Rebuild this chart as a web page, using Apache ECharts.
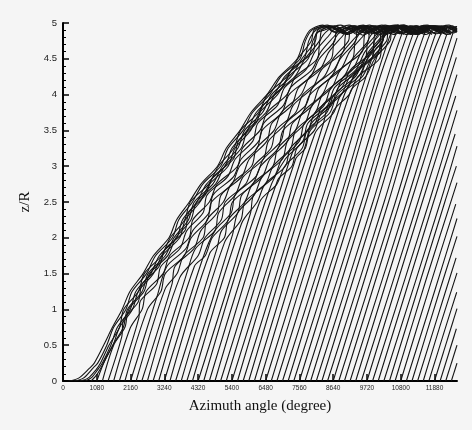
<!DOCTYPE html>
<html>
<head>
<meta charset="utf-8">
<script src="https://cdn.jsdelivr.net/npm/echarts@6/dist/echarts.min.js"></script>
<style>html,body{margin:0;padding:0;background:#f5f5f5;}#c{width:472px;height:430px;}</style>
</head>
<body>
<div id="c"></div>
<script>
// Axis values
const xTickValues = [0,1080,2160,3240,4320,5400,6480,7560,8640,9720,10800,11880];
const xRange = [0, 12600];
const yRange = [0, 5];
const yStep = 0.5;

// Vortex trajectories [azimuth (deg), z/R], named by release azimuth
const v0180 = [[180,0],[500,0.04],[850,0.18],[1000,0.25],[1300,0.5],[1580,0.75],[1890,1],[2140,1.25],[2560,1.5],[2890,1.75],[3390,2],[3630,2.25],[4040,2.5],[4410,2.75],[4940,3],[5220,3.25],[5660,3.5],[6010,3.75],[6520,4],[6920,4.25],[7490,4.5],[7700,4.75],[7900,4.9],[8300,4.97],[8700,4.87],[9200,4.95],[9700,4.85]];
const v0360 = [[360,0],[650,0.04],[960,0.18],[1110,0.25],[1400,0.5],[1620,0.75],[2010,1],[2210,1.25],[2670,1.5],[2960,1.75],[3500,2],[3700,2.25],[4140,2.5],[4470,2.75],[5040,3],[5280,3.25],[5760,3.5],[6060,3.75],[6610,4],[6970,4.25],[7580,4.5],[7750,4.75],[7960,4.9],[8350,4.95],[8800,4.86],[9300,4.96],[9800,4.84]];
const v0540 = [[540,0],[800,0.04],[1060,0.16],[1200,0.25],[1470,0.5],[1810,0.75],[1940,1],[2410,1.25],[2600,1.5],[3150,1.75],[3430,2],[3890,2.25],[4070,2.5],[4660,2.75],[4970,3],[5460,3.25],[5680,3.5],[6250,3.75],[6540,4],[7160,4.25],[7510,4.5],[7940,4.75],[8030,4.9],[8450,4.97],[8900,4.87],[9400,4.95],[9900,4.86]];
const v0720 = [[720,0],[920,0.05],[1130,0.17],[1260,0.25],[1530,0.5],[1740,0.75],[2150,1],[2330,1.25],[2810,1.5],[3080,1.75],[3640,2],[3820,2.25],[4280,2.5],[4590,2.75],[5180,3],[5400,3.25],[5890,3.5],[6180,3.75],[6750,4],[7090,4.25],[7710,4.5],[7860,4.75],[8090,4.9],[8500,4.95],[9000,4.85],[9500,4.96],[10000,4.85]];
const v0900 = [[900,0],[1100,0.1],[1300,0.25],[1590,0.5],[1930,0.75],[2060,1],[2530,1.25],[2720,1.5],[3270,1.75],[3550,2],[4010,2.25],[4200,2.5],[4790,2.75],[5100,3],[5590,3.25],[5810,3.5],[6380,3.75],[6670,4],[7290,4.25],[7640,4.5],[8070,4.75],[8150,4.9],[8550,4.96],[9050,4.86],[9550,4.95],[10050,4.84]];
const v1080 = [[1080,0],[1350,0.3],[1600,0.5],[1810,0.75],[2220,1],[2410,1.25],[2890,1.5],[3170,1.75],[3730,2],[3910,2.25],[4380,2.5],[4690,2.75],[5280,3],[5500,3.25],[6000,3.5],[6290,3.75],[6860,4],[7210,4.25],[7840,4.5],[7990,4.75],[8220,4.9],[8600,4.94],[9100,4.84],[9600,4.96],[10100,4.87]];
const v1260 = [[1260,0],[1620,0.5],[1980,0.75],[2100,1],[2590,1.25],[2770,1.5],[3350,1.75],[3610,2],[4090,2.25],[4270,2.5],[4880,2.75],[5170,3],[5700,3.25],[5900,3.5],[6490,3.75],[6770,4],[7410,4.25],[7740,4.5],[8200,4.75],[8280,4.9],[8680,4.96],[9080,4.86],[9580,4.95],[10080,4.84]];
const v1440 = [[1440,0],[1880,0.62],[1930,0.85],[2400,1.1],[2530,1.35],[3070,1.6],[3280,1.85],[3900,2.1],[4020,2.35],[4550,2.6],[4800,2.85],[5450,3.1],[5610,3.35],[6170,3.6],[6400,3.85],[7030,4.1],[7310,4.35],[8000,4.6],[8090,4.85],[8350,4.9],[8750,4.95],[9150,4.85],[9650,4.96],[10150,4.86]];
const v1620 = [[1620,0],[2150,0.74],[2530,1],[2660,1.25],[3200,1.5],[3410,1.75],[4030,2],[4150,2.25],[4680,2.5],[4930,2.75],[5580,3],[5740,3.25],[6300,3.5],[6530,3.75],[7160,4],[7440,4.25],[8130,4.5],[8220,4.75],[8480,4.9],[8880,4.97],[9380,4.87],[9880,4.95],[10380,4.83]];
const v1800 = [[1800,0],[2420,0.87],[2460,1.1],[2990,1.35],[3130,1.6],[3740,1.85],[3960,2.1],[4480,2.35],[4610,2.6],[5260,2.85],[5510,3.1],[6070,3.35],[6230,3.6],[6860,3.85],[7090,4.1],[7770,4.35],[8060,4.6],[8550,4.85],[8610,4.9],[9010,4.94],[9410,4.84],[9910,4.96],[10410,4.87]];
const v1980 = [[1980,0],[2700,1],[3130,1.25],[3270,1.5],[3880,1.75],[4100,2],[4620,2.25],[4750,2.5],[5400,2.75],[5650,3],[6210,3.25],[6370,3.5],[7000,3.75],[7230,4],[7910,4.25],[8200,4.5],[8690,4.75],[8750,4.9],[9150,4.97],[9650,4.86],[10150,4.95],[10650,4.85]];
const v2160 = [[2160,0],[3020,1.2],[3320,1.6],[3930,1.85],[4150,2.1],[4670,2.35],[4800,2.6],[5450,2.85],[5700,3.1],[6260,3.35],[6420,3.6],[7050,3.85],[7280,4.1],[7960,4.35],[8250,4.6],[8740,4.85],[8800,4.9],[9200,4.93],[9600,4.83],[10100,4.95],[10600,4.86]];
const v2340 = [[2340,0],[3260,1.28],[3650,1.5],[3860,1.75],[4480,2],[4600,2.25],[5130,2.5],[5380,2.75],[6030,3],[6190,3.25],[6750,3.5],[6980,3.75],[7610,4],[7890,4.25],[8580,4.5],[8670,4.75],[8930,4.9],[9330,4.96],[9800,4.87],[10300,4.97],[10800,4.85]];
const v2520 = [[2520,0],[3490,1.36],[3580,1.6],[4190,1.85],[4410,2.1],[4930,2.35],[5060,2.6],[5710,2.85],[5960,3.1],[6520,3.35],[6680,3.6],[7310,3.85],[7540,4.1],[8220,4.35],[8510,4.6],[9000,4.85],[9060,4.9],[9460,4.95],[9900,4.85],[10400,4.94],[10900,4.84]];
const v2700 = [[2700,0],[3730,1.44],[4320,1.75],[4540,2],[5060,2.25],[5190,2.5],[5840,2.75],[6090,3],[6650,3.25],[6810,3.5],[7440,3.75],[7670,4],[8350,4.25],[8640,4.5],[9130,4.75],[9190,4.9],[9600,4.97],[10000,4.86],[10500,4.96],[11000,4.87]];
const v2880 = [[2880,0],[3970,1.52],[4240,1.85],[4860,2.1],[4980,2.35],[5510,2.6],[5760,2.85],[6410,3.1],[6570,3.35],[7130,3.6],[7360,3.85],[7990,4.1],[8270,4.35],[8960,4.6],[9050,4.85],[9310,4.9],[9700,4.94],[10150,4.84],[10650,4.95],[11150,4.86]];
const v3060 = [[3060,0],[4200,1.6],[4550,1.75],[4770,2],[5290,2.25],[5420,2.5],[6070,2.75],[6320,3],[6880,3.25],[7040,3.5],[7670,3.75],[7900,4],[8580,4.25],[8870,4.5],[9360,4.75],[9420,4.9],[9800,4.97],[10300,4.87],[10800,4.95],[11300,4.85]];
const v3240 = [[3240,0],[4460,1.7],[4860,2.1],[5380,2.35],[5510,2.6],[6160,2.85],[6410,3.1],[6970,3.35],[7130,3.6],[7760,3.85],[7990,4.1],[8670,4.35],[8960,4.6],[9450,4.85],[9510,4.9],[9900,4.95],[10400,4.85],[10900,4.96],[11400,4.84]];
const v3420 = [[3420,0],[4690,1.78],[5160,2],[5280,2.25],[5810,2.5],[6060,2.75],[6710,3],[6870,3.25],[7430,3.5],[7660,3.75],[8290,4],[8570,4.25],[9260,4.5],[9350,4.75],[9610,4.9],[10000,4.96],[10450,4.87],[10950,4.95],[11450,4.86]];
const v3600 = [[3600,0],[4930,1.86],[5070,2.1],[5590,2.35],[5720,2.6],[6370,2.85],[6620,3.1],[7180,3.35],[7340,3.6],[7970,3.85],[8200,4.1],[8880,4.35],[9170,4.6],[9660,4.85],[9720,4.9],[10100,4.94],[10600,4.84],[11100,4.96],[11600,4.86]];
const v3780 = [[3780,0],[5170,1.94],[5690,2.25],[5820,2.5],[6470,2.75],[6720,3],[7280,3.25],[7440,3.5],[8070,3.75],[8300,4],[8980,4.25],[9270,4.5],[9760,4.75],[9820,4.9],[10200,4.97],[10700,4.87],[11200,4.95],[11700,4.85]];
const v3960 = [[3960,0],[5420,2.04],[5590,2.35],[6120,2.6],[6370,2.85],[7020,3.1],[7180,3.35],[7740,3.6],[7970,3.85],[8600,4.1],[8880,4.35],[9570,4.6],[9660,4.85],[9920,4.9],[10300,4.95],[10800,4.85],[11300,4.96],[11800,4.84]];
const v4140 = [[4140,0],[5710,2.2],[6210,2.5],[6460,2.75],[7110,3],[7270,3.25],[7830,3.5],[8060,3.75],[8690,4],[8970,4.25],[9660,4.5],[9750,4.75],[10010,4.9],[10400,4.96],[10900,4.86],[11400,4.95],[11900,4.85]];
const v4320 = [[4320,0],[6000,2.35],[6100,2.6],[6750,2.85],[7000,3.1],[7560,3.35],[7720,3.6],[8350,3.85],[8580,4.1],[9260,4.35],[9550,4.6],[10040,4.85],[10100,4.9],[10500,4.94],[11000,4.84],[11500,4.96],[12000,4.87]];
const v4500 = [[4500,0],[6290,2.5],[6840,2.75],[7090,3],[7650,3.25],[7810,3.5],[8440,3.75],[8670,4],[9350,4.25],[9640,4.5],[10130,4.75],[10190,4.9],[10600,4.97],[11100,4.87],[11600,4.95],[12100,4.85]];
const v4680 = [[4680,0],[6580,2.65],[7110,3.1],[7670,3.35],[7830,3.6],[8460,3.85],[8690,4.1],[9370,4.35],[9660,4.6],[10150,4.85],[10210,4.9],[10600,4.95],[11100,4.85],[11600,4.96],[12100,4.84]];
const v4860 = [[4860,0],[6860,2.8],[7320,3],[7480,3.25],[8040,3.5],[8270,3.75],[8900,4],[9180,4.25],[9870,4.5],[9960,4.75],[10220,4.9],[10650,4.96],[11150,4.86],[11650,4.95],[12150,4.86]];
const v5040 = [[5040,0],[7150,2.95],[7500,3.35],[8060,3.6],[8290,3.85],[8920,4.1],[9200,4.35],[9890,4.6],[9980,4.85],[10240,4.9],[10650,4.94],[11150,4.84],[11650,4.96],[12150,4.87]];
const v5220 = [[5220,0],[7440,3.1],[7750,3.25],[7910,3.5],[8540,3.75],[8770,4],[9450,4.25],[9740,4.5],[10230,4.75],[10290,4.9],[10700,4.97],[11200,4.87],[11700,4.95],[12200,4.85]];
const v5400 = [[5400,0],[7760,3.3],[7950,3.6],[8580,3.85],[8810,4.1],[9490,4.35],[9780,4.6],[10270,4.85],[10330,4.9],[10750,4.95],[11250,4.85],[11750,4.96],[12250,4.84]];
const v5580 = [[5580,0],[8050,3.45],[8660,3.75],[8890,4],[9570,4.25],[9860,4.5],[10350,4.75],[10410,4.9],[10800,4.96],[11300,4.86],[11800,4.95],[12300,4.86]];
const v5760 = [[5760,0],[8330,3.6],[8490,3.85],[9120,4.1],[9400,4.35],[10090,4.6],[10180,4.85],[10440,4.9],[10850,4.94],[11350,4.84],[11850,4.96],[12350,4.87]];
const v5940 = [[5940,0],[8620,3.75],[9150,4],[9430,4.25],[10120,4.5],[10210,4.75],[10470,4.9],[10900,4.97],[11400,4.87],[11900,4.95],[12400,4.85]];
const v6120 = [[6120,0],[8910,3.9],[9460,4.35],[10150,4.6],[10240,4.85],[10500,4.9],[10900,4.95],[11400,4.85],[11900,4.96],[12400,4.84]];
const v6300 = [[6300,0],[9200,4.05],[9680,4.25],[9970,4.5],[10460,4.75],[10520,4.9],[10950,4.96],[11450,4.86],[11950,4.95],[12450,4.86]];
const v6480 = [[6480,0],[9560,4.3],[9850,4.6],[10340,4.85],[10400,4.9],[10800,4.94],[11300,4.84],[11800,4.96],[12300,4.87]];
const v6660 = [[6660,0],[9950,4.6],[10230,4.75],[10300,4.9],[10700,4.97],[11200,4.87],[11700,4.95],[12200,4.85]];
const v6840 = [[6840,0],[8620,2.5],[10340,4.9],[10750,4.95],[11250,4.85],[11750,4.96],[12200,4.86]];
const v7020 = [[7020,0],[8830,2.5],[10520,4.9],[10900,4.97],[11400,4.87],[11900,4.95],[12400,4.85]];
const v7200 = [[7200,0],[8960,2.5],[10700,4.9],[11100,4.94],[11600,4.84],[12100,4.96],[12580,4.87]];
const v7380 = [[7380,0],[9190,2.5],[10880,4.9],[11300,4.96],[11800,4.86],[12300,4.95],[12600,4.88]];
const v7560 = [[7560,0],[9330,2.5],[11060,4.9],[11450,4.95],[11950,4.85],[12450,4.96],[12600,4.9]];
const v7740 = [[7740,0],[9550,2.5],[11240,4.9],[11650,4.97],[12150,4.87],[12600,4.95]];
const v7920 = [[7920,0],[9690,2.5],[11420,4.9],[11800,4.94],[12300,4.84],[12600,4.93]];
const v8100 = [[8100,0],[9910,2.5],[11600,4.9],[12000,4.96],[12500,4.86],[12600,4.9]];
const v8280 = [[8280,0],[10050,2.5],[11780,4.9],[12200,4.95],[12600,4.87]];
const v8460 = [[8460,0],[10270,2.5],[11960,4.9],[12350,4.97],[12600,4.88]];
const v8640 = [[8640,0],[10410,2.5],[12140,4.9],[12550,4.94]];
const v8820 = [[8820,0],[10630,2.5],[12320,4.9],[12600,4.95]];
const v9000 = [[9000,0],[10770,2.5],[12500,4.9],[12600,4.93]];
const v9180 = [[9180,0],[10990,2.5],[12600,4.79]];
const v9360 = [[9360,0],[11130,2.5],[12580,4.52]];
const v9540 = [[9540,0],[11350,2.5],[12600,4.28]];
const v9720 = [[9720,0],[11490,2.5],[12560,3.98]];
const v9900 = [[9900,0],[11710,2.5],[12600,3.78]];
const v10080 = [[10080,0],[11850,2.5],[12540,3.45]];
const v10260 = [[10260,0],[12070,2.5],[12600,3.28]];
const v10440 = [[10440,0],[12210,2.5],[12580,3.0]];
const v10620 = [[10620,0],[11600,1.4],[12600,2.77]];
const v10800 = [[10800,0],[11700,1.28],[12560,2.47]];
const v10980 = [[10980,0],[11880,1.25],[12600,2.27]];
const v11160 = [[11160,0],[12030,1.24],[12600,2.02]];
const v11340 = [[11340,0],[12240,1.26],[12570,1.72]];
const v11520 = [[11520,0],[12050,0.76],[12600,1.51]];
const v11700 = [[11700,0],[12200,0.7],[12590,1.24]];
const v11880 = [[11880,0],[12600,1.01]];
const v12060 = [[12060,0],[12580,0.73]];
const v12240 = [[12240,0],[12600,0.5]];
const v12420 = [[12420,0],[12600,0.25]];

const trajectories = [v0180,v0360,v0540,v0720,v0900,v1080,v1260,v1440,v1620,v1800,v1980,v2160,v2340,v2520,v2700,v2880,v3060,v3240,v3420,v3600,v3780,v3960,v4140,v4320,v4500,v4680,v4860,v5040,v5220,v5400,v5580,v5760,v5940,v6120,v6300,v6480,v6660,v6840,v7020,v7200,v7380,v7560,v7740,v7920,v8100,v8280,v8460,v8640,v8820,v9000,v9180,v9360,v9540,v9720,v9900,v10080,v10260,v10440,v10620,v10800,v10980,v11160,v11340,v11520,v11700,v11880,v12060,v12240,v12420];

const chart = echarts.init(document.getElementById('c'), null, {renderer:'canvas'});
chart.setOption({
  backgroundColor: '#f5f5f5',
  animation: false,
  grid: {left: 63, right: 15, top: 23, bottom: 49},
  xAxis: {
    type: 'value', min: xRange[0], max: xRange[1],
    name: 'Azimuth angle (degree)', nameLocation: 'middle', nameGap: 18,
    nameTextStyle: {fontFamily: 'Liberation Serif', fontSize: 15, color: '#111'},
    axisLine: {lineStyle: {color: '#000', width: 2}},
    axisTick: {inside: true, length: 7, customValues: xTickValues, lineStyle: {color: '#000', width: 1.5}},
    axisLabel: {customValues: xTickValues, fontSize: 6.5, color: '#222', margin: 4, fontFamily: 'Liberation Sans', formatter: v => String(v)},
    splitLine: {show: false}
  },
  yAxis: {
    type: 'value', min: yRange[0], max: yRange[1], interval: yStep,
    name: 'z/R', nameLocation: 'middle', nameGap: 26, nameRotate: 90,
    nameTextStyle: {fontFamily: 'Liberation Serif', fontSize: 15, color: '#111'},
    axisLine: {show: true, lineStyle: {color: '#000', width: 2}},
    axisTick: {show: true, inside: true, length: 6, lineStyle: {color: '#000', width: 1.5}},
    minorTick: {show: true, splitNumber: 5, length: 3, lineStyle: {color: '#000', width: 1}},
    axisLabel: {fontSize: 9.5, color: '#222', margin: 6, fontFamily: 'Liberation Sans', formatter: v => String(v)},
    splitLine: {show: false}
  },
  series: trajectories.map(d => ({
    type: 'line', data: d, symbol: 'none', showSymbol: false, smooth: 0.3,
    silent: true, lineStyle: {color: '#151515', width: 1.1}
  }))
});
</script>
</body>
</html>
